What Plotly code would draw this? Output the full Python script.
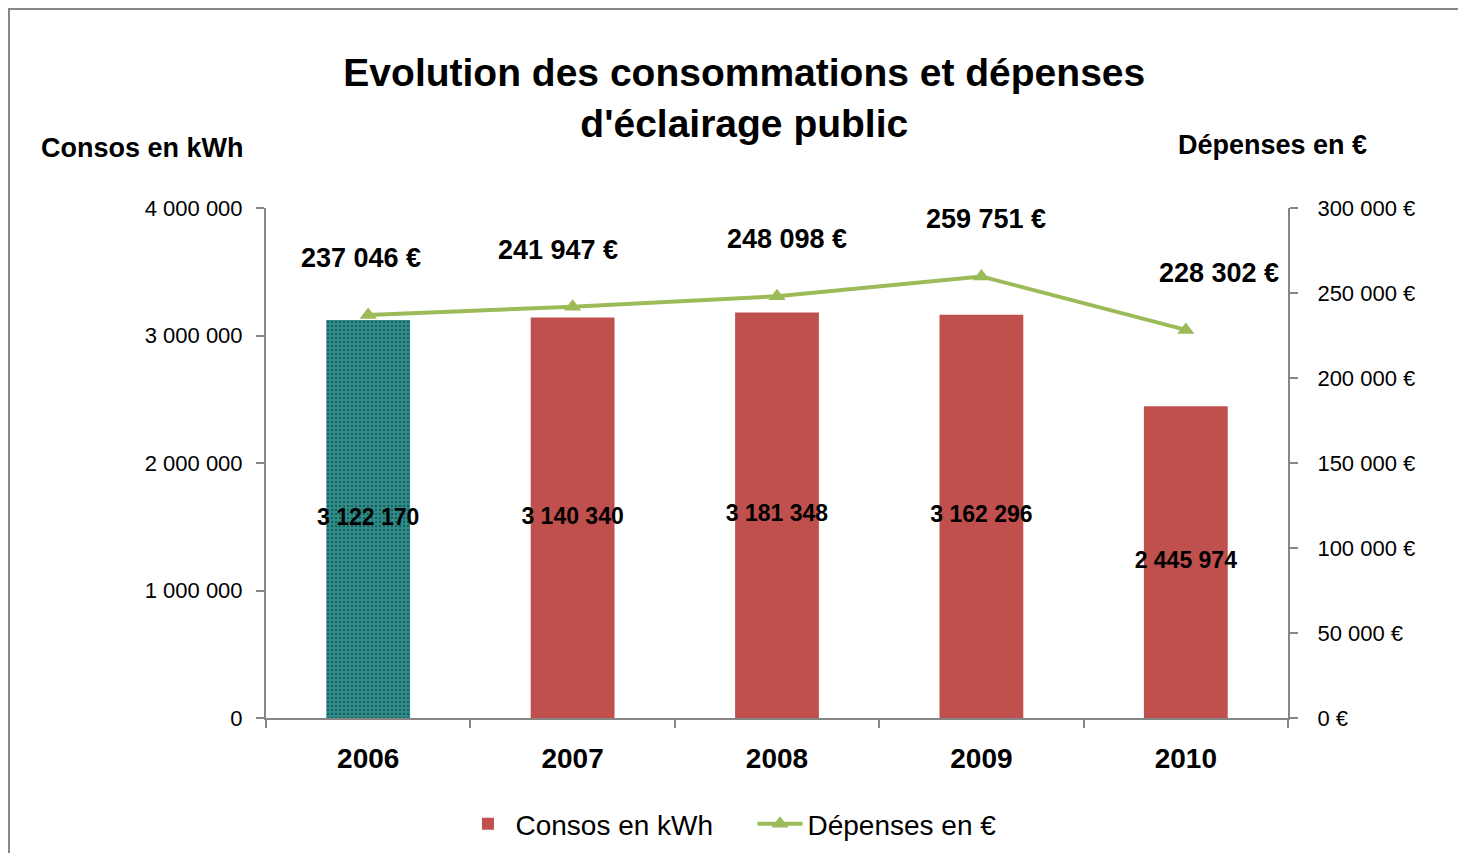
import plotly.graph_objects as go

years = ["2006", "2007", "2008", "2009", "2010"]
consos_kwh = [3122170, 3140340, 3181348, 3162296, 2445974]
depenses_eur = [237046, 241947, 248098, 259751, 228302]

left_ticks = [0, 1000000, 2000000, 3000000, 4000000]
left_ticktext = ["0", "1 000 000", "2 000 000", "3 000 000", "4 000 000"]
right_ticks = [0, 50000, 100000, 150000, 200000, 250000, 300000]
right_ticktext = ["0 €", "50 000 €", "100 000 €", "150 000 €", "200 000 €", "250 000 €", "300 000 €"]

def fmt(v, suffix=""):
    return f"{v:,}".replace(",", " ") + suffix

FONT = "Liberation Sans Narrow, Arial Narrow, Liberation Sans, Arial"
BOLDFONT = "Liberation Sans, Arial"
RED = "#C0504D"
GREEN = "#9BBB59"
TEAL = "#2F8F8C"
GRAY = "#868686"

fig = go.Figure()

# 2006 bar (patterned)
fig.add_trace(go.Bar(
    x=years[:1], y=consos_kwh[:1], width=0.41,
    marker=dict(color=TEAL, line=dict(width=0),
                pattern=dict(shape=".", fgcolor="#0d2e2e", bgcolor=TEAL, size=4, solidity=0.35)),
    showlegend=False, hoverinfo="skip", yaxis="y",
))
# other bars
fig.add_trace(go.Bar(
    x=years[1:], y=consos_kwh[1:], width=0.41,
    marker=dict(color=RED, line=dict(width=0)),
    name="Consos en kWh", yaxis="y",
))
# bar labels at mid-height
fig.add_trace(go.Scatter(
    x=years, y=[v / 2 for v in consos_kwh], mode="text",
    text=[fmt(v) for v in consos_kwh],
    textfont=dict(family=FONT, size=23, color="black", weight="bold"),
    showlegend=False, hoverinfo="skip", yaxis="y",
))
# line
fig.add_trace(go.Scatter(
    x=years, y=depenses_eur, mode="lines+markers",
    line=dict(color=GREEN, width=4),
    marker=dict(symbol="triangle-up", size=15, color=GREEN),
    name="Dépenses en €", yaxis="y2",
))

xshifts = [-7, -15, 10, 5, 33]
annotations = []
for i, (v, xs) in enumerate(zip(depenses_eur, xshifts)):
    annotations.append(dict(
        x=i, y=v, xref="x", yref="y2", text=fmt(v, " €"), showarrow=False,
        yshift=57, xshift=xs, xanchor="center", yanchor="middle",
        font=dict(family=FONT, size=27, color="black", weight="bold"),
    ))

annotations.append(dict(
    x=-0.1213, y=1.1176, xref="paper", yref="paper", text="Consos en kWh",
    xanchor="center", yanchor="middle",
    showarrow=False, font=dict(family=BOLDFONT, size=27, color="black", weight="bold"),
))
annotations.append(dict(
    x=0.9853, y=1.1235, xref="paper", yref="paper", text="Dépenses en €",
    xanchor="center", yanchor="middle",
    showarrow=False, font=dict(family=BOLDFONT, size=27, color="black", weight="bold"),
))

fig.update_layout(
    width=1458, height=845,
    margin=dict(l=258, r=178, t=200, b=135),
    paper_bgcolor="white", plot_bgcolor="white",
    barmode="overlay",
    title=dict(
        text="Evolution des consommations et dépenses<br>d'éclairage public",
        x=0.505, xref="container", xanchor="center",
        y=0.9077, yref="container", yanchor="middle",
        font=dict(family=BOLDFONT, size=39, color="black", weight="bold"),
    ),
    xaxis=dict(
        type="category", showgrid=False, showline=True, linecolor=GRAY, linewidth=2,
        ticks="outside", tickson="boundaries", ticklen=8, tickcolor=GRAY, tickwidth=2,
        tickfont=dict(family=FONT, size=28, color="black", weight="bold"),
        ticklabelstandoff=14,
        range=[-0.5, 4.5],
    ),
    yaxis=dict(
        range=[0, 4000000], tickvals=left_ticks, ticktext=left_ticktext,
        showgrid=False, zeroline=False, showline=True, linecolor=GRAY, linewidth=2,
        ticks="outside", ticklen=8, tickcolor=GRAY, tickwidth=2,
        tickfont=dict(family=FONT, size=22, color="black"),
        ticklabelstandoff=9,
    ),
    yaxis2=dict(
        range=[0, 300000], tickvals=right_ticks, ticktext=right_ticktext,
        overlaying="y", side="right",
        showgrid=False, zeroline=False, showline=True, linecolor=GRAY, linewidth=2,
        ticks="outside", ticklen=8, tickcolor=GRAY, tickwidth=2,
        tickfont=dict(family=FONT, size=22, color="black"),
        ticklabelstandoff=15,
    ),
    legend=dict(
        orientation="h", x=0.476, xanchor="center",
        y=0.0343, yref="container", yanchor="middle",
        font=dict(family=FONT, size=28, color="black"),
        itemwidth=45, entrywidth=232, entrywidthmode="pixels", traceorder="normal",
    ),
    annotations=annotations,
    shapes=[dict(
        type="rect", xref="paper", yref="paper",
        x0=-0.2515, y0=-0.3, x1=1.19, y1=1.390,
        line=dict(color=GRAY, width=2), fillcolor="rgba(0,0,0,0)", layer="below",
    )],
)

fig.write_html("out.html")
